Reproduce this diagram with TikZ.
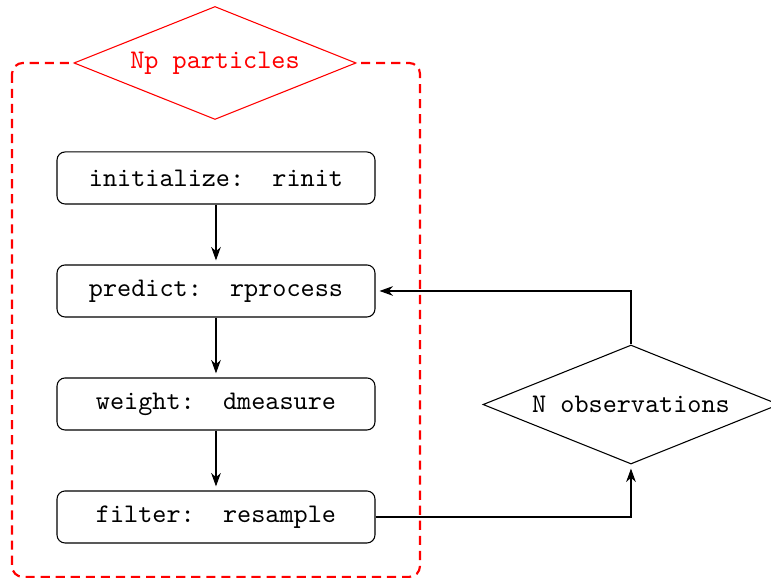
\documentclass[tikz,border=0pt]{standalone}
\usepackage{tikz}
\usetikzlibrary{shapes.geometric,arrows.meta}

\begin{document}
\begin{tikzpicture}[
	stepbox/.style={rectangle, draw, rounded corners=3pt, minimum width=4.156cm, minimum height=0.68cm, font=\ttfamily},
	loopdiam/.style={diamond, draw, aspect=2.5, inner sep=0pt, fill=white, font=\ttfamily},
	flow/.style={-{Stealth[length=5pt,width=3.6pt,inset=1.6pt]}, shorten >=1.5pt}]
				
				\useasboundingbox (0,0) rectangle (10.077,-7.555);
				
				% particle loop
				\draw[red, thick, dash pattern=on 3.4pt off 2.2pt, rounded corners=4pt] (0.157,-0.823) rectangle (5.489,-7.54);
				\node [loopdiam, draw=red, text=red, minimum width=3.686cm, minimum height=1.477cm] (np) at (2.810,-0.823) {Np particles};
				
				\node [stepbox] (init) at (2.823,-2.326) {initialize:\ \ rinit};
				\node [stepbox] (pred) at (2.823,-3.803) {predict:\ \ rprocess};
				\node [stepbox] (wgt) at (2.823,-5.280) {weight:\ \ dmeasure};
				\node [stepbox] (filt) at (2.823,-6.757) {filter:\ \ resample};
				
				\draw[flow] (init.south) -- (pred.north);
				\draw[flow] (pred.south) -- (wgt.north);
				\draw[flow] (wgt.south) -- (filt.north);
				
				% observation loop
				\node [loopdiam, minimum width=3.869cm, minimum height=1.555cm] (obs) at (8.247,-5.287) {N observations};
				
				\draw[flow] (obs.north) |- (pred.east);
				\draw[flow] (filt.east) -| (obs.south);
				
			\end{tikzpicture}
\end{document}
